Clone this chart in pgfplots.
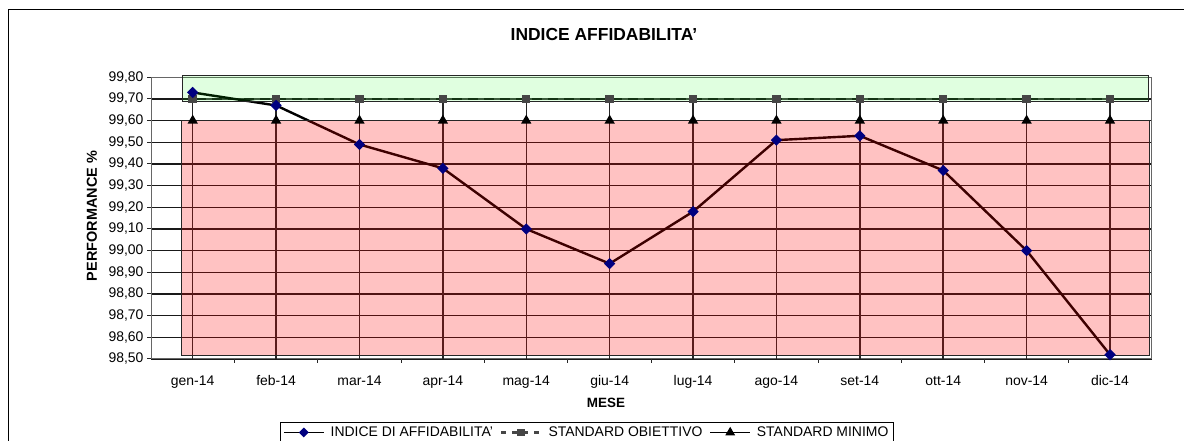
\documentclass[border=0pt]{standalone}
\usepackage{fontspec}
\setmainfont{Liberation Sans}
\usepackage{pgfplots}
\pgfplotsset{compat=1.18}
\definecolor{navyblue}{RGB}{0,0,128}
\definecolor{objgray}{RGB}{70,70,70}
\begin{document}
\begin{tikzpicture}[x=1bp,y=1bp]
\useasboundingbox (0,0) rectangle (1184,441);
\draw[black,line width=1bp] (8,-5) -- (8,431) -- (1190,431);
\node[font=\bfseries\fontsize{17.5}{20}\selectfont] at (604,406) {INDICE AFFIDABILITA'};
\node[font=\bfseries\fontsize{14.5}{16}\selectfont, rotate=90] at (92,225) {PERFORMANCE \%};
\node[font=\bfseries\fontsize{13.5}{15}\selectfont] at (606,38) {MESE};
\begin{axis}[
  at={(151bp,82bp)}, anchor=south west,
  scale only axis, width=1000.7bp, height=281.7bp,
  xmin=-0.5, xmax=11.5, ymin=98.5, ymax=99.8,
  clip=false,
  xtick pos=bottom, ytick pos=left,
  xtick={0,...,11},
  xticklabels={gen-14,feb-14,mar-14,apr-14,mag-14,giu-14,lug-14,ago-14,set-14,ott-14,nov-14,dic-14},
  minor x tick num=1,
  major x tick style={draw=none},
  minor x tick style={draw=black!85, line width=1bp},
  ytick={98.5,98.6,98.7,98.8,98.9,99.0,99.1,99.2,99.3,99.4,99.5,99.6,99.7,99.8},
  major y tick style={draw=black!85, line width=1bp},
  tick align=outside, major tick length=4bp, minor tick length=4bp,
  ymajorgrids, major grid style={black!90, line width=1.2bp},
  axis line style={black!60, line width=1bp},
  /pgf/number format/assume math mode=true,
  yticklabel style={/pgf/number format/.cd, fixed, fixed zerofill, precision=2, use comma, 1000 sep={}},
  tick label style={font=\fontsize{14}{16}\selectfont},
  xticklabel style={yshift=-9bp},
  legend style={at={(rel axis cs:0.1289,-0.2236)}, anchor=north west, draw=black, line width=0.8bp,
    font=\fontsize{14}{16}\selectfont, inner sep=2.5bp,
    /tikz/every even column/.append style={column sep=5bp},
    /tikz/every odd column/.append style={column sep=4bp}},
  legend columns=3,
  legend image code/.code={\draw[mark repeat=2,mark phase=2,#1] plot coordinates {(0bp,0bp) (20bp,0bp) (40bp,0bp)};},
]
% legend images
\addlegendimage{black, line width=1.8bp, mark=square*, mark size=2.6bp, mark options={rotate=45, fill=navyblue, draw=navyblue}}
\addlegendentry{INDICE DI AFFIDABILITA'}
\addlegendimage{objgray, line width=2.6bp, dash pattern=on 5bp off 6bp, mark=square*, mark size=2.6bp, mark options={solid, fill=objgray, draw=objgray}}
\addlegendentry{STANDARD OBIETTIVO}
\addlegendimage{black, line width=1.5bp, mark=triangle*, mark size=4.2bp, mark options={fill=black}}
\addlegendentry{STANDARD MINIMO}
% drop lines
\addplot[black!85, line width=1.5bp, unbounded coords=jump, forget plot] coordinates {
(0,98.5) (0,99.7) (0,nan) (1,98.5) (1,99.7) (1,nan) (2,98.5) (2,99.7) (2,nan)
(3,98.5) (3,99.7) (3,nan) (4,98.5) (4,99.7) (4,nan) (5,98.5) (5,99.7) (5,nan)
(6,98.5) (6,99.7) (6,nan) (7,98.5) (7,99.7) (7,nan) (8,98.5) (8,99.7) (8,nan)
(9,98.5) (9,99.7) (9,nan) (10,98.5) (10,99.7) (10,nan) (11,98.5) (11,99.7)};
% standard obiettivo
\addplot[forget plot, objgray, line width=2.8bp, dash pattern=on 6bp off 10bp, dash phase=3bp, mark=square*, mark size=2.8bp, mark options={solid, fill=objgray, draw=objgray}] coordinates {
(0,99.7) (1,99.7) (2,99.7) (3,99.7) (4,99.7) (5,99.7) (6,99.7) (7,99.7) (8,99.7) (9,99.7) (10,99.7) (11,99.7)};
% standard minimo
\addplot[forget plot, black, line width=1.6bp, mark=triangle*, mark size=4.4bp, mark options={fill=black}] coordinates {
(0,99.6) (1,99.6) (2,99.6) (3,99.6) (4,99.6) (5,99.6) (6,99.6) (7,99.6) (8,99.6) (9,99.6) (10,99.6) (11,99.6)};
% indice
\addplot[forget plot, black, line width=2.4bp, mark=square*, mark size=2.8bp, mark options={rotate=45, fill=navyblue, draw=navyblue}] coordinates {
(0,99.73) (1,99.67) (2,99.49) (3,99.38) (4,99.10) (5,98.94) (6,99.18) (7,99.51) (8,99.53) (9,99.37) (10,99.00) (11,98.52)};
% overlays
\fill[red, fill opacity=0.24] (axis cs:-0.132,98.515) rectangle (axis cs:11.475,99.6);
\draw[black!85, line width=1bp] (axis cs:-0.132,98.515) rectangle (axis cs:11.475,99.6);
\fill[green, fill opacity=0.12] (axis cs:-0.128,99.69) rectangle (axis cs:11.458,99.81);
\draw[black!85, line width=1bp] (axis cs:-0.128,99.69) rectangle (axis cs:11.458,99.81);
\end{axis}
\end{tikzpicture}
\end{document}
